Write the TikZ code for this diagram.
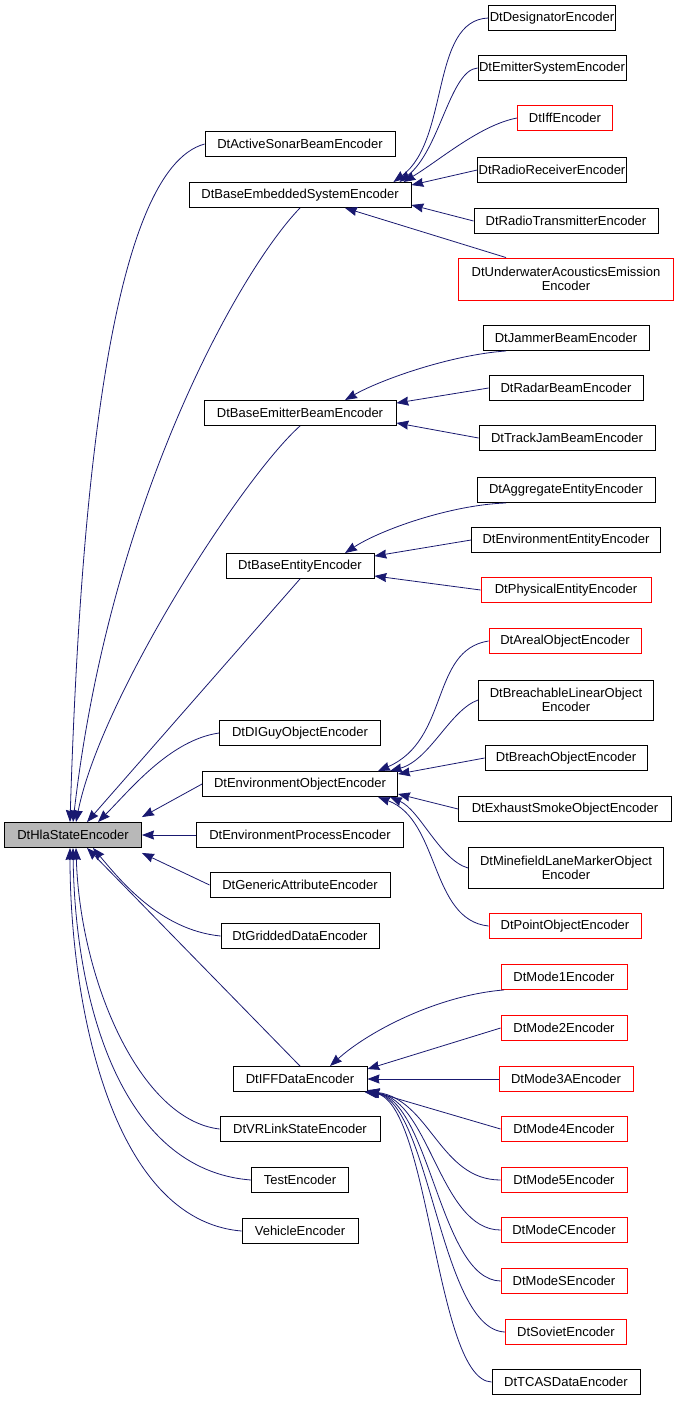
\documentclass[tikz,border=0pt]{standalone}
\usepackage{fontspec}
\setmainfont{Liberation Sans}
\usetikzlibrary{arrows.meta}
\definecolor{eblue}{HTML}{191970}
\tikzset{
 box/.style={draw=black,fill=white,minimum height=25pt,inner sep=1pt,line width=0.9pt,font=\fontsize{13}{14}\selectfont,align=center},
 rbox/.style={box,draw=red},
 edge/.style={draw=eblue,line width=0.8pt,-{Stealth[length=12pt,width=9pt,inset=1pt]}}
}
\begin{document}
\begin{tikzpicture}[x=1pt,y=-1pt]
\useasboundingbox (0,0) rectangle (680,1403);
\node[box,fill=black!28,minimum width=137pt] (hla) at (73,835) {DtHlaStateEncoder};
% middle column
\node[box,minimum width=190pt] (sonar) at (300,144) {DtActiveSonarBeamEncoder};
\node[box,minimum width=222pt] (bes) at (300,195) {DtBaseEmbeddedSystemEncoder};
\node[box,minimum width=192pt] (beb) at (300,413) {DtBaseEmitterBeamEncoder};
\node[box,minimum width=148pt] (be) at (300,566) {DtBaseEntityEncoder};
\node[box,minimum width=161pt] (dig) at (300,733) {DtDIGuyObjectEncoder};
\node[box,minimum width=195pt] (eo) at (300,784) {DtEnvironmentObjectEncoder};
\node[box,minimum width=207pt] (ep) at (300,835) {DtEnvironmentProcessEncoder};
\node[box,minimum width=180pt] (ga) at (300,885) {DtGenericAttributeEncoder};
\node[box,minimum width=158pt] (gd) at (300,936) {DtGriddedDataEncoder};
\node[box,minimum width=134pt] (iff) at (300,1079) {DtIFFDataEncoder};
\node[box,minimum width=160pt] (vr) at (300,1129) {DtVRLinkStateEncoder};
\node[box,minimum width=97pt] (test) at (300,1180) {TestEncoder};
\node[box,minimum width=116pt] (veh) at (300,1231) {VehicleEncoder};
% right column
\node[box,minimum width=120pt] (des) at (552,18) {DtDesignatorEncoder};
\node[box,minimum width=142pt] (ems) at (552,68) {DtEmitterSystemEncoder};
\node[rbox,minimum width=95pt] (iffe) at (565,118) {DtIffEncoder};
\node[box,minimum width=144pt] (rr) at (552,170) {DtRadioReceiverEncoder};
\node[box,minimum width=184pt] (rt) at (566,221) {DtRadioTransmitterEncoder};
\node[rbox,minimum width=215pt,minimum height=42pt] (uw) at (566,279) {DtUnderwaterAcousticsEmission\\Encoder};
\node[box,minimum width=166pt] (jam) at (566,338) {DtJammerBeamEncoder};
\node[box,minimum width=154pt] (rad) at (566,388) {DtRadarBeamEncoder};
\node[box,minimum width=176pt] (tj) at (567,438) {DtTrackJamBeamEncoder};
\node[box,minimum width=178pt] (agg) at (566,490) {DtAggregateEntityEncoder};
\node[box,minimum width=189pt] (ee) at (566,540) {DtEnvironmentEntityEncoder};
\node[rbox,minimum width=170pt] (pe) at (566,590) {DtPhysicalEntityEncoder};
\node[rbox,minimum width=152pt] (ar) at (565,641) {DtArealObjectEncoder};
\node[box,minimum width=175pt,minimum height=40pt] (bl) at (566,700) {DtBreachableLinearObject\\Encoder};
\node[box,minimum width=162pt] (br) at (566,758) {DtBreachObjectEncoder};
\node[box,minimum width=213pt] (ex) at (565,809) {DtExhaustSmokeObjectEncoder};
\node[box,minimum width=195pt,minimum height=41pt] (mf) at (566,868) {DtMinefieldLaneMarkerObject\\Encoder};
\node[rbox,minimum width=152pt] (po) at (565,926) {DtPointObjectEncoder};
\node[rbox,minimum width=126pt] (m1) at (564,977) {DtMode1Encoder};
\node[rbox,minimum width=126pt] (m2) at (564,1028) {DtMode2Encoder};
\node[rbox,minimum width=134pt] (m3) at (566,1079) {DtMode3AEncoder};
\node[rbox,minimum width=126pt] (m4) at (564,1129) {DtMode4Encoder};
\node[rbox,minimum width=126pt] (m5) at (564,1180) {DtMode5Encoder};
\node[rbox,minimum width=126pt] (mc) at (564,1230) {DtModeCEncoder};
\node[rbox,minimum width=126pt] (ms) at (564,1281) {DtModeSEncoder};
\node[rbox,minimum width=121pt] (sov) at (566,1332) {DtSovietEncoder};
\node[box,minimum width=148pt] (tcas) at (566,1382) {DtTCASDataEncoder};
% edges to hla
\draw[edge] (sonar.west) .. controls (110,170) and (80,500) .. ([xshift=-3pt]hla.north);
\draw[edge] (bes.south) .. controls (240,270) and (110,500) .. ([xshift=0pt]hla.north);
\draw[edge] (beb.south) .. controls (240,480) and (100,700) .. ([xshift=3pt]hla.north);
\draw[edge] (be.south) -- ([xshift=14pt]hla.north);
\draw[edge] (dig.west) .. controls (170,740) and (130,790) .. ([xshift=25pt]hla.north);
\draw[edge] (eo.west) -- ([yshift=5pt]hla.north east);
\draw[edge] (ep.west) -- (hla.east);
\draw[edge] (ga.west) -- ([yshift=-5pt]hla.south east);
\draw[edge] (gd.west) .. controls (160,930) and (120,880) .. ([xshift=20pt]hla.south);
\draw[edge] (iff.north) -- ([xshift=14pt]hla.south);
\draw[edge] (vr.west) .. controls (140,1120) and (80,980) .. ([xshift=3pt]hla.south);
\draw[edge] (test.west) .. controls (120,1170) and (75,1000) .. ([xshift=0pt]hla.south);
\draw[edge] (veh.west) .. controls (110,1220) and (70,1000) .. ([xshift=-3pt]hla.south);
% embedded
\draw[edge] (des.west) .. controls (430,20) and (450,140) .. ([xshift=-18pt]bes.north east);
\draw[edge] (ems.west) .. controls (450,70) and (440,150) .. ([xshift=-12pt]bes.north east);
\draw[edge] (iffe.west) .. controls (480,125) and (440,160) .. ([xshift=-8pt]bes.north east);
\draw[edge] (rr.west) -- ([yshift=-3pt]bes.north east);
\draw[edge] (rt.west) -- ([yshift=3pt]bes.south east);
\draw[edge] ([xshift=-60pt]uw.north) -- ([xshift=45pt]bes.south);
% emitter beam
\draw[edge] ([xshift=-60pt]jam.south) .. controls (450,355) and (380,380) .. ([xshift=45pt]beb.north);
\draw[edge] (rad.west) -- ([yshift=-3pt]beb.north east);
\draw[edge] (tj.west) -- ([yshift=3pt]beb.south east);
% entity
\draw[edge] ([xshift=-60pt]agg.south) .. controls (450,505) and (380,530) .. ([xshift=45pt]be.north);
\draw[edge] (ee.west) -- ([yshift=-3pt]be.north east);
\draw[edge] (pe.west) -- ([yshift=3pt]be.south east);
% env object
\draw[edge] (ar.west) .. controls (430,650) and (450,740) .. ([xshift=-20pt]eo.north east);
\draw[edge] (bl.west) .. controls (450,710) and (430,760) .. ([xshift=-8pt]eo.north east);
\draw[edge] (br.west) -- ([yshift=-3pt]eo.north east);
\draw[edge] (ex.west) -- ([yshift=3pt]eo.south east);
\draw[edge] (mf.west) .. controls (440,860) and (420,810) .. ([xshift=-8pt]eo.south east);
\draw[edge] (po.west) .. controls (430,920) and (440,820) .. ([xshift=-20pt]eo.south east);
% IFF
\draw[edge] ([xshift=-60pt]m1.south) .. controls (440,995) and (370,1030) .. ([xshift=30pt]iff.north);
\draw[edge] (m2.west) -- ([yshift=-3pt]iff.north east);
\draw[edge] (m3.west) -- (iff.east);
\draw[edge] (m4.west) -- ([yshift=2pt]iff.south east);
\draw[edge] (m5.west) .. controls (440,1180) and (430,1100) .. ([yshift=1pt]iff.south east);
\draw[edge] (mc.west) .. controls (440,1230) and (430,1100) .. ([yshift=0pt]iff.south east);
\draw[edge] (ms.west) .. controls (440,1280) and (430,1100) .. ([xshift=-1pt]iff.south east);
\draw[edge] (sov.west) .. controls (440,1330) and (430,1100) .. ([xshift=-2pt]iff.south east);
\draw[edge] (tcas.west) .. controls (435,1380) and (430,1100) .. ([xshift=-3pt]iff.south east);
\end{tikzpicture}
\end{document}
